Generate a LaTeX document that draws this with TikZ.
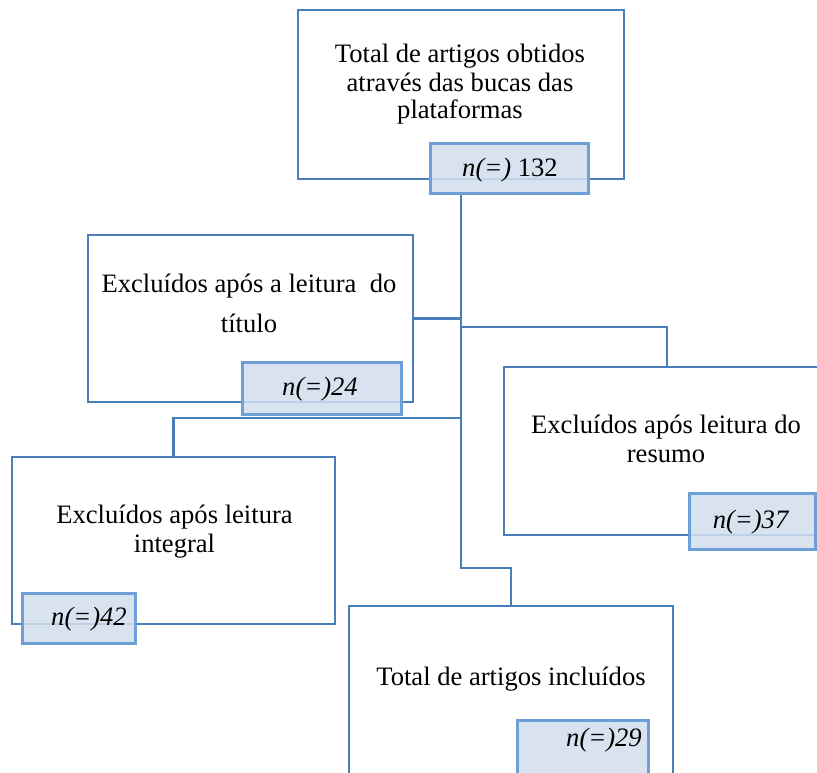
\documentclass[tikz,border=0pt]{standalone}
\usepackage{fontspec}
\setmainfont{Liberation Serif}
\definecolor{bigline}{RGB}{74,126,187}
\definecolor{smallline}{RGB}{109,160,214}
\definecolor{smallfill}{RGB}{211,223,238}
\begin{document}
\begin{tikzpicture}[x=1pt,y=-1pt,
  bigbox/.style={draw=bigline,line width=2.6pt,fill=white,rectangle,inner sep=0pt},
  smallbox/.style={draw=smallline,line width=3pt,fill=smallfill,fill opacity=0.85,rectangle,inner sep=0pt},
  conn/.style={draw=bigline,line width=2.6pt},
  txt/.style={inner sep=0pt,anchor=base,font=\fontsize{26.6}{28}\selectfont}]
\useasboundingbox[fill=white] (0,0) rectangle (817,772);
% big boxes
\node[bigbox,minimum width=326pt,minimum height=169pt] (top) at (461,94.5) {};
\node[bigbox,minimum width=325pt,minimum height=167pt] (lt) at (250.5,318.5) {};
\node[bigbox,minimum width=326pt,minimum height=168pt] (rt) at (667,451) {};
\node[bigbox,minimum width=323pt,minimum height=167pt] (ll) at (173.5,540.5) {};
\node[bigbox,minimum width=324pt,minimum height=174pt] (bot) at (511,693) {};
% connectors
\coordinate (t0) at (461,193);
\coordinate (t1) at (461,568);
\coordinate (j2) at (461,327);
\coordinate (j3) at (461,418);
\draw[conn] (t0) -- (t1) -| (bot.north);
\draw[conn] (lt.east) -- (lt.east -| t0);
\draw[conn] (j2) -| (rt.north);
\draw[conn] (j3) -| (ll.north);
% texts
\node[txt] (m1) at (460,62) {Total de artigos obtidos};
\node[txt] (m2) at (460,91) {através das bucas das};
\node[txt] (m3) at (460,118) {plataformas};
\node[txt] (l1) at (249,292) {Excluídos após a leitura\ \ do};
\node[txt] (l2) at (249,332) {título};
\node[txt] (r1) at (666,433) {Excluídos após leitura do};
\node[txt] (r2) at (666,462) {resumo};
\node[txt] (q1) at (174.5,523) {Excluídos após leitura};
\node[txt] (q2) at (174.5,552) {integral};
\node[txt] (b1) at (511,685) {Total de artigos incluídos};
% small boxes
\node[smallbox,minimum width=158pt,minimum height=50pt] (s132) at (509,168) {};
\node[smallbox,minimum width=159pt,minimum height=52pt] (s24) at (321.5,388) {};
\node[smallbox,minimum width=126pt,minimum height=56pt] (s37) at (752,521) {};
\node[smallbox,minimum width=113pt,minimum height=50pt] (s42) at (78.5,618) {};
\node[smallbox,minimum width=131pt,minimum height=58pt] (s29) at (582.5,749) {};
\node[txt] (n132) at (510,176) {\textit{n(=)} 132};
\node[txt] (n24) at (320,395) {\textit{n(=)24}};
\node[txt] (n37) at (751,528) {\textit{n(=)37}};
\node[txt] (n42) at (89,625) {\textit{n(=)42}};
\node[txt] (n29) at (604,746) {\textit{n(=)29}};
\end{tikzpicture}
\end{document}
